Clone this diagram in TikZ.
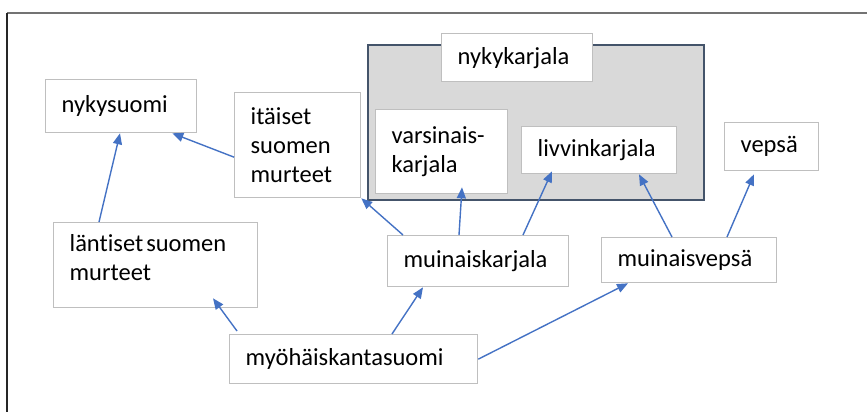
\documentclass[tikz,border=0pt]{standalone}
\usepackage{fontspec}
\setmainfont{Carlito}[Ligatures=NoCommon]
\usetikzlibrary{arrows.meta}

\definecolor{boxGray}{HTML}{BFBFBF}
\definecolor{groupFill}{HTML}{D9D9D9}
\definecolor{groupLine}{HTML}{44546A}
\definecolor{arrowBlue}{HTML}{4472C4}

\begin{document}
\begin{tikzpicture}[x=1pt, y=-1pt,
        langBox/.style={rectangle, draw=boxGray, line width=1.3pt, fill=white, anchor=north west,
                align=left, inner xsep=16pt, inner ysep=0pt,
                font=\fontsize{24.5}{29}\selectfont},
        groupBox/.style={rectangle, draw=groupLine, line width=1.8pt, fill=groupFill, anchor=north west},
        arr/.style={-{Triangle[length=11pt, width=9pt]}, draw=arrowBlue, line width=1.4pt}]
        \useasboundingbox (0, 0) rectangle (867, 412);
        \draw[color = black!55, line width=1.5pt] (7, 13) -- (867, 13);
        \draw[color = black!85, line width=2pt] (7, 13) -- (7, 412);

        \node[groupBox, minimum width=336pt, minimum height=155pt] (karjalaGroup) at (367, 44) {};

        \node[langBox, text width=119pt, minimum height=53pt] (nykySuomi) at (45, 79) {nykysuomi};
        \node[langBox, text width=94pt, minimum height=105pt] (itaNode) at (234, 92) {itäiset\\suomen\\murteet};
        \node[langBox, text width=172pt, minimum height=85pt] (lantNode) at (53, 222) {läntiset\hspace{3pt}suomen\\murteet\\[-14pt]\mbox{}};
        \node[langBox, text width=119pt, minimum height=48pt] (nykyKarjala) at (441, 33) {nykykarjala};
        \node[langBox, text width=100pt, minimum height=84pt] (varsNode) at (375, 109) {varsinais-\\karjala};
        \node[langBox, text width=123pt, minimum height=47pt] (livviNode) at (521, 126) {livvinkarjala};
        \node[langBox, text width=62pt, minimum height=48pt] (vepsaNode) at (724, 122) {vepsä};
        \node[langBox, text width=149pt, minimum height=51pt] (muKarjala) at (387, 235) {muinaiskarjala};
        \node[langBox, text width=143pt, minimum height=45pt] (muVepsa) at (601, 237) {muinaisvepsä};
        \node[langBox, text width=216pt, minimum height=49pt] (myoNode) at (229, 334) {myöhäiskantasuomi};

        \draw ([xshift=46pt]lantNode.north west) edge[arr] ([xshift=75pt]nykySuomi.south west);
        \draw ([yshift=-12pt]itaNode.west) edge[arr] ([xshift=-25pt]nykySuomi.south east);
        \draw ([xshift=16pt]muKarjala.north west) edge[arr] (itaNode.south east);
        \draw ([xshift=72pt]muKarjala.north west) edge[arr] ([xshift=87pt, yshift=7pt]varsNode.south west);
        \draw ([xshift=136pt]muKarjala.north west) edge[arr] ([xshift=31pt, yshift=3pt]livviNode.south west);
        \draw ([xshift=71pt]muVepsa.north west) edge[arr] ([xshift=118pt]livviNode.south west);
        \draw ([xshift=126pt]muVepsa.north west) edge[arr] ([xshift=30pt, yshift=-3pt]vepsaNode.south west);
        \draw ([xshift=8pt, yshift=3pt]myoNode.north west) edge[arr] ([xshift=160pt, yshift=10pt]lantNode.south west);
        \draw ([xshift=163pt]myoNode.north west) edge[arr] ([xshift=36pt]muKarjala.south west);
        \draw (myoNode.east) edge[arr] ([xshift=27pt]muVepsa.south west);
      \end{tikzpicture}
\end{document}
